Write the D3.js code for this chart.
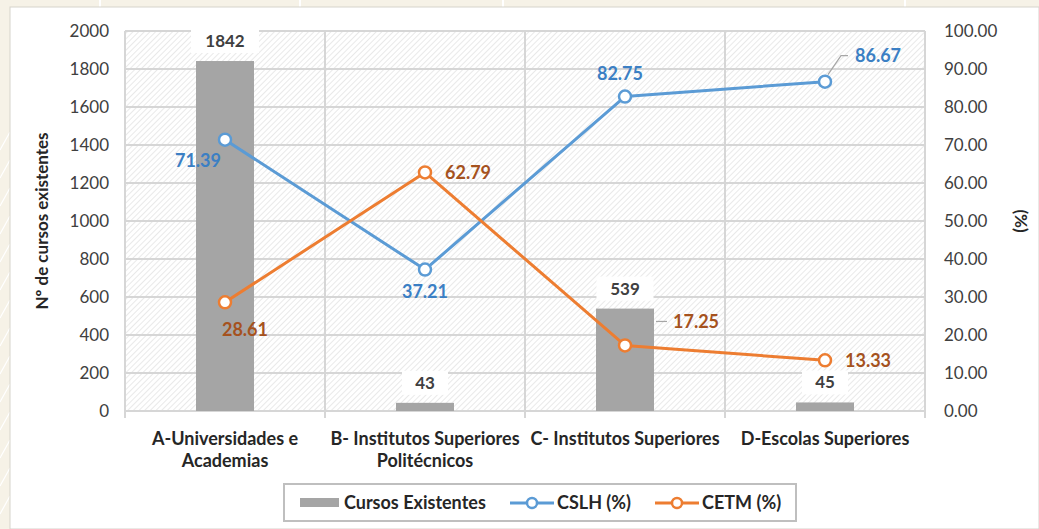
<!DOCTYPE html>
<html>
<head>
<meta charset="utf-8">
<script src="https://cdn.jsdelivr.net/npm/d3@7"></script>
<style>
  html, body { margin: 0; padding: 0; background: #f6f2e7; }
  svg { display: block; font-family: Lato, "Open Sans", sans-serif; }
</style>
</head>
<body>
<div id="chart"></div>
<script>
// data
const categories = [
  ["A-Universidades e", "Academias"],
  ["B- Institutos Superiores", "Politécnicos"],
  ["C- Institutos Superiores"],
  ["D-Escolas Superiores"]
];
const cursos = [1842, 43, 539, 45];
const cslh = [71.39, 37.21, 82.75, 86.67];
const cetm = [28.61, 62.79, 17.25, 13.33];
const leftTicks = [0, 200, 400, 600, 800, 1000, 1200, 1400, 1600, 1800, 2000];
const rightTicks = [0, 10, 20, 30, 40, 50, 60, 70, 80, 90, 100];

// label offsets (dx, dy from point, anchor)
const cslhLabelPos = [[-4, 27, "end"], [0, 28, "middle"], [-5, -17, "middle"], [30, -20, "start"]];
const cetmLabelPos = [[20, 34, "middle"], [20, 7, "start"], [48, -17, "start"], [20, 7, "start"]];

const W = 1039, H = 529;
const margin = { top: 31, right: 114, bottom: 118, left: 125 };

const svg = d3.select("#chart").append("svg")
  .attr("width", W)
  .attr("height", H);

// page / card background
svg.append("rect").attr("x", 0).attr("y", 0).attr("width", W).attr("height", H).attr("fill", "#f6f2e7");
[100, 300, 503, 905].forEach(x => {
  svg.append("line").attr("x1", x).attr("x2", x).attr("y1", 0).attr("y2", 7)
    .attr("stroke", "#ffffff").attr("stroke-width", 2);
});
for (let i = 0; i < 14; i++) {
  svg.append("line").attr("x1", 0).attr("x2", 10)
    .attr("y1", 150 + i * 28).attr("y2", 132 + i * 28)
    .attr("stroke", "#ffffff").attr("stroke-width", 1.2);
}
svg.append("rect").attr("x", 10).attr("y", 7).attr("width", W - 10).attr("height", H - 7)
  .attr("fill", "#ffffff").attr("stroke", "#d6d3cc").attr("stroke-width", 1);

// hatch pattern
const defs = svg.append("defs");
defs.append("pattern")
  .attr("id", "hatch")
  .attr("patternUnits", "userSpaceOnUse")
  .attr("width", 4).attr("height", 4)
  .attr("patternTransform", "rotate(45)")
  .append("line")
  .attr("x1", 0).attr("y1", 0).attr("x2", 0).attr("y2", 4)
  .attr("stroke", "#dadada").attr("stroke-width", 1.2);

const x0 = margin.left, x1 = W - margin.right;
const y0 = H - margin.bottom, y1 = margin.top;

const x = d3.scaleBand().domain(d3.range(categories.length)).range([x0, x1]).padding(0);
const yLeft = d3.scaleLinear().domain([0, 2000]).range([y0, y1]);
const yRight = d3.scaleLinear().domain([0, 100]).range([y0, y1]);

// plot area
svg.append("rect")
  .attr("x", x0).attr("y", y1).attr("width", x1 - x0).attr("height", y0 - y1)
  .attr("fill", "url(#hatch)");

// horizontal gridlines
svg.selectAll(".hgrid")
  .data(leftTicks)
  .enter().append("line")
  .attr("class", "hgrid")
  .attr("x1", x0).attr("x2", x1)
  .attr("y1", d => yLeft(d)).attr("y2", d => yLeft(d))
  .attr("stroke", "#d6d6d6").attr("stroke-width", 2);

// vertical gridlines at category boundaries
const bounds = d3.range(categories.length + 1).map(i => x0 + i * x.bandwidth());
svg.selectAll(".vgrid")
  .data(bounds)
  .enter().append("line")
  .attr("class", "vgrid")
  .attr("x1", d => d).attr("x2", d => d)
  .attr("y1", y1).attr("y2", y0 + 7)
  .attr("stroke", "#d6d6d6").attr("stroke-width", 2);

// left axis tick labels
svg.selectAll(".lt")
  .data(leftTicks)
  .enter().append("text")
  .attr("class", "lt")
  .attr("x", x0 - 16)
  .attr("y", d => yLeft(d) + 6)
  .attr("text-anchor", "end")
  .attr("font-size", "17px")
  .attr("fill", "#404040")
  .text(d => d);

// right axis tick labels
svg.selectAll(".rt")
  .data(rightTicks)
  .enter().append("text")
  .attr("class", "rt")
  .attr("x", x1 + 19)
  .attr("y", d => yRight(d) + 6)
  .attr("text-anchor", "start")
  .attr("font-size", "17px")
  .attr("fill", "#404040")
  .text(d => d.toFixed(2));

// axis titles
svg.append("text")
  .attr("transform", "translate(48," + ((y0 + y1) / 2) + ") rotate(-90)")
  .attr("text-anchor", "middle")
  .attr("font-size", "17px")
  .attr("font-weight", "bold")
  .attr("fill", "#262626")
  .text("Nº de cursos existentes");
svg.append("text")
  .attr("transform", "translate(1015," + ((y0 + y1) / 2) + ") rotate(90)")
  .attr("text-anchor", "middle")
  .attr("font-size", "17px")
  .attr("font-weight", "bold")
  .attr("fill", "#262626")
  .text("(%)");

// category labels
const catG = svg.selectAll(".cat")
  .data(categories)
  .enter().append("text")
  .attr("class", "cat")
  .attr("text-anchor", "middle")
  .attr("font-size", "18px")
  .attr("font-weight", "bold")
  .attr("fill", "#262626");
catG.selectAll("tspan")
  .data((d, i) => d.map(t => ({ t: t, i: i })))
  .enter().append("tspan")
  .attr("x", d => x(d.i) + x.bandwidth() / 2)
  .attr("y", (d, j) => 445 + j * 22)
  .text(d => d.t);

// bars
const barW = 58;
svg.selectAll(".bar")
  .data(cursos)
  .enter().append("rect")
  .attr("class", "bar")
  .attr("x", (d, i) => x(i) + x.bandwidth() / 2 - barW / 2)
  .attr("y", d => yLeft(d))
  .attr("width", barW)
  .attr("height", d => y0 - yLeft(d))
  .attr("fill", "#a5a5a5");

// bar labels with white boxes
const barLab = svg.selectAll(".barlab")
  .data(cursos)
  .enter().append("g")
  .attr("class", "barlab")
  .attr("transform", (d, i) => "translate(" + (x(i) + x.bandwidth() / 2) + "," + (yLeft(d) - 20) + ")");
barLab.append("rect")
  .attr("x", d => -(String(d).length * 5.5 + 12))
  .attr("y", -12)
  .attr("width", d => String(d).length * 11 + 24)
  .attr("height", 24)
  .attr("fill", "#ffffff");
barLab.append("text")
  .attr("text-anchor", "middle")
  .attr("y", 6)
  .attr("font-size", "17px")
  .attr("font-weight", "bold")
  .attr("fill", "#404040")
  .text(d => d);

// lines
function drawSeries(values, color, labelColor, pos, cls) {
  const line = d3.line()
    .x((d, i) => x(i) + x.bandwidth() / 2)
    .y(d => yRight(d));
  svg.append("path")
    .datum(values)
    .attr("d", line)
    .attr("fill", "none")
    .attr("stroke", color)
    .attr("stroke-width", 3)
    .attr("stroke-linejoin", "round");
  svg.selectAll("." + cls + "m")
    .data(values)
    .enter().append("circle")
    .attr("class", cls + "m")
    .attr("cx", (d, i) => x(i) + x.bandwidth() / 2)
    .attr("cy", d => yRight(d))
    .attr("r", 6)
    .attr("fill", "#ffffff")
    .attr("stroke", color)
    .attr("stroke-width", 2.5);
  svg.selectAll("." + cls + "l")
    .data(values)
    .enter().append("text")
    .attr("class", cls + "l")
    .attr("x", (d, i) => x(i) + x.bandwidth() / 2 + pos[i][0])
    .attr("y", (d, i) => yRight(d) + pos[i][1])
    .attr("text-anchor", (d, i) => pos[i][2])
    .attr("font-size", "18px")
    .attr("font-weight", "bold")
    .attr("fill", labelColor)
    .text(d => d.toFixed(2));
}

drawSeries(cslh, "#5b9bd5", "#3b7fc4", cslhLabelPos, "cslh");
drawSeries(cetm, "#ed7d31", "#a5521e", cetmLabelPos, "cetm");

// leader lines
const dCx = x(3) + x.bandwidth() / 2;
svg.append("polyline")
  .attr("points", [[dCx + 3, yRight(cslh[3]) - 7], [dCx + 16, yRight(cslh[3]) - 26], [dCx + 23, yRight(cslh[3]) - 26]].join(" "))
  .attr("fill", "none").attr("stroke", "#a6a6a6").attr("stroke-width", 1.2);
const cCx = x(2) + x.bandwidth() / 2;
svg.append("line")
  .attr("x1", cCx + 31).attr("x2", cCx + 42)
  .attr("y1", yRight(cetm[2]) - 24).attr("y2", yRight(cetm[2]) - 24)
  .attr("stroke", "#a6a6a6").attr("stroke-width", 1.2);

// legend
const lg = svg.append("g");
lg.append("rect")
  .attr("x", 284).attr("y", 484).attr("width", 512).attr("height", 37)
  .attr("fill", "#ffffff").attr("stroke", "#bfbfbf").attr("stroke-width", 2);
lg.append("rect")
  .attr("x", 300).attr("y", 498).attr("width", 39).attr("height", 9)
  .attr("fill", "#a5a5a5");
lg.append("text").attr("x", 344).attr("y", 509)
  .attr("font-size", "18px").attr("font-weight", "bold").attr("fill", "#262626")
  .text("Cursos Existentes");
[[510, "#5b9bd5", "CSLH (%)"], [655, "#ed7d31", "CETM (%)"]].forEach(item => {
  lg.append("line").attr("x1", item[0]).attr("x2", item[0] + 44)
    .attr("y1", 503).attr("y2", 503)
    .attr("stroke", item[1]).attr("stroke-width", 3);
  lg.append("circle").attr("cx", item[0] + 22).attr("cy", 503).attr("r", 5)
    .attr("fill", "#ffffff").attr("stroke", item[1]).attr("stroke-width", 2.5);
  lg.append("text").attr("x", item[0] + 47).attr("y", 509)
    .attr("font-size", "18px").attr("font-weight", "bold").attr("fill", "#262626")
    .text(item[2]);
});
</script>
</body>
</html>
